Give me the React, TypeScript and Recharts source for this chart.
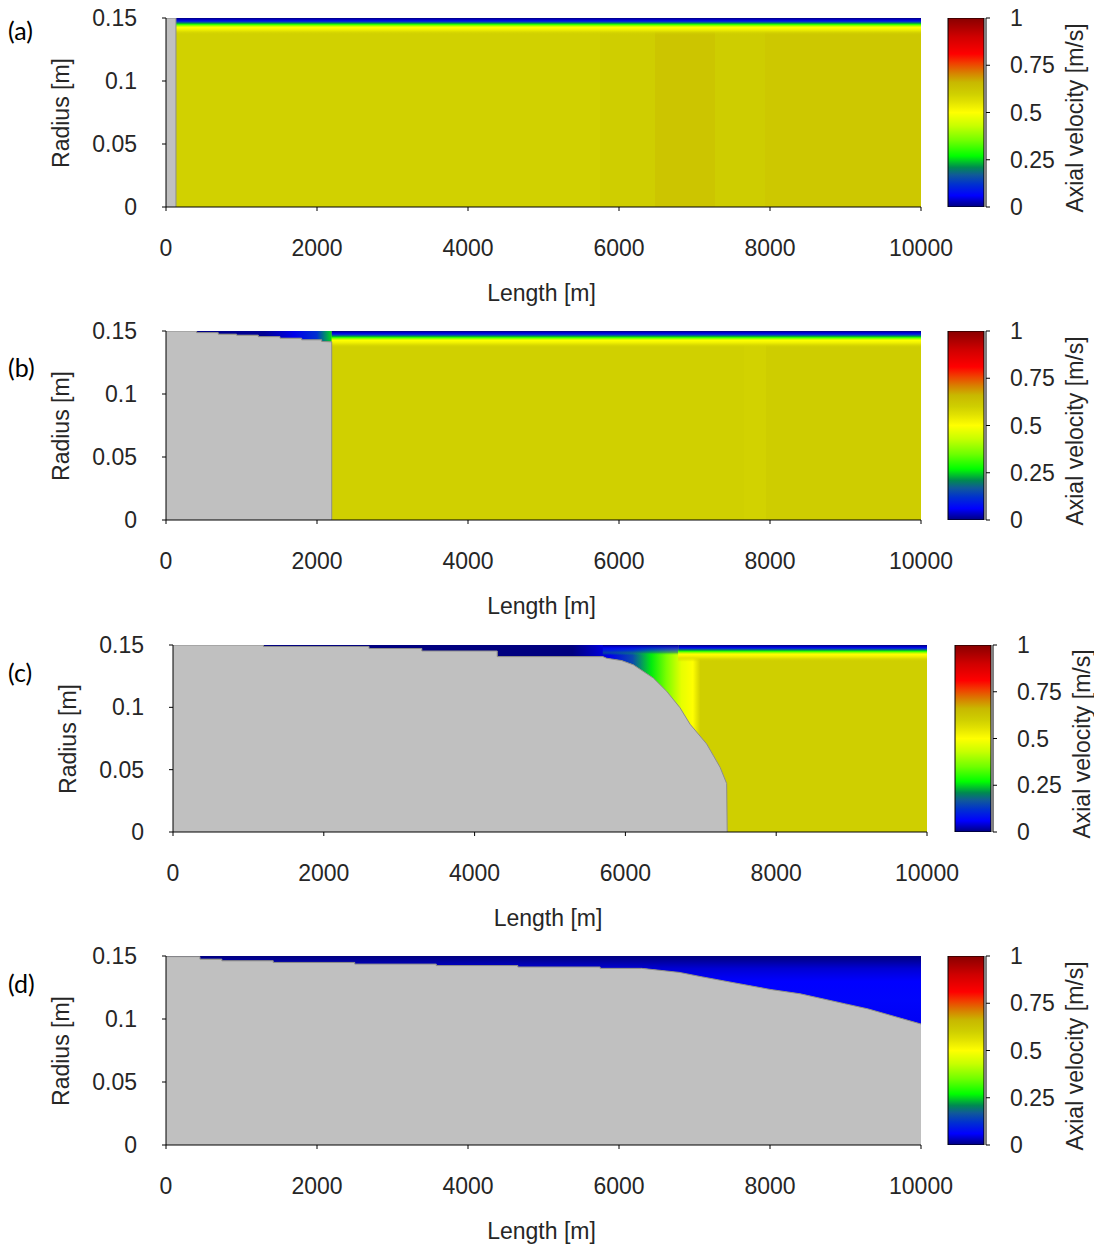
import React from 'react';
import { ComposedChart, Area, Bar, XAxis, YAxis } from 'recharts';

// ---------- shared axes / scales ----------
const PIPE_R = 0.15;
const PIPE_L = 10000;
const xTicks = [0, 2000, 4000, 6000, 8000, 10000];
const yTicks = [0, 0.05, 0.1, 0.15];
const cbarTicks = [0, 0.25, 0.5, 0.75, 1];

// near-wall axial velocity profile (radius [m] -> velocity [m/s])
const wallProfileR = [0.15, 0.1488, 0.1476, 0.1467, 0.1458, 0.1449, 0.1438, 0.1426, 0.1412, 0.1398, 0.138, 0.1365];
const wallProfileV = [0, 0.03, 0.08, 0.15, 0.22, 0.3, 0.4, 0.5, 0.52, 0.55, 0.58, 0.6];

// ---------- panel (a) ----------
const depXA = [0, 132, 132];
const depRA = [0.15, 0.15, 0];
const coreXA = [0, 5750, 6480, 7270, 7930, 10000];
const coreVA = [0.595, 0.602, 0.625, 0.606, 0.618];

// ---------- panel (b) ----------
const depXB = [0, 406, 406, 692, 692, 935, 935, 1223, 1223, 1510, 1510, 1797, 1797, 2062, 2062, 2195, 2195];
const depRB = [0.15, 0.15, 0.1487, 0.1487, 0.1475, 0.1475, 0.1467, 0.1467, 0.1455, 0.1455, 0.1443, 0.1443, 0.143, 0.143, 0.1417, 0.1414, 0];
const bandXB = [0, 1300, 1700, 2000, 2195];
const bandVB = [0, 0.01, 0.05, 0.12, 0.25];
const coreXB = [0, 7650, 7950, 10000];
const coreVB = [0.598, 0.592, 0.606];

// ---------- panel (c) ----------
const depXC = [0, 1200, 1200, 2600, 2600, 3300, 3300, 4300, 4300, 5700, 5750, 5950, 6105, 6370, 6547, 6724, 6857, 7078, 7255, 7343, 7350];
const depRC = [0.15, 0.15, 0.1488, 0.1488, 0.1472, 0.1472, 0.1452, 0.1452, 0.1407, 0.1407, 0.1394, 0.1375, 0.1341, 0.1235, 0.1129, 0.0997, 0.0865, 0.0706, 0.052, 0.0389, 0];
const bandXC = [0, 5300, 5800, 6100, 6350, 6550, 6750, 6900, 7000, 7350];
const bandVC = [0, 0, 0.05, 0.15, 0.26, 0.36, 0.47, 0.5, 0.6, 0.6];
const coreXC = [0, 10000];
const coreVC = [0.6];
// low-velocity layer hugging the wall in the transition zone of (c)
const topXC = [5700, 6700];
const topRC = [0.15, 0.1485, 0.147, 0.1455, 0.144, 0.142];
const topVC = [0, 0.04, 0.08, 0.12, 0.18, 0.25];

// ---------- panel (d) ----------
const depXD = [0, 450, 450, 740, 740, 1420, 1420, 2500, 2500, 3580, 3580, 4660, 4660, 5750, 5750, 6300, 6800, 7070, 7500, 8000, 8400, 9000, 9300, 10000];
const depRD = [0.1495, 0.1495, 0.1475, 0.1475, 0.1462, 0.1462, 0.1449, 0.1449, 0.1436, 0.1436, 0.1424, 0.1424, 0.1413, 0.1413, 0.1402, 0.1402, 0.137, 0.1338, 0.129, 0.1235, 0.12, 0.112, 0.108, 0.096];
const bandRD = [0.15, 0.146, 0.14, 0.13, 0.115, 0.096];
const bandVD = [0, 0.015, 0.04, 0.06, 0.065, 0.055];
const coreXD = [0, 10000];
const coreVD = [0.6];

// ---------- colour map (velocity -> colour) ----------
const CMAP: [number, string][] = [
  [0.0, '#00007f'],
  [0.06, '#0000ff'],
  [0.12, '#0030d0'],
  [0.17, '#105a98'],
  [0.21, '#008a50'],
  [0.27, '#00ff00'],
  [0.35, '#70ff00'],
  [0.43, '#c8ff00'],
  [0.5, '#ffff00'],
  [0.56, '#e0e000'],
  [0.6, '#cfcf00'],
  [0.66, '#c8b800'],
  [0.71, '#d88000'],
  [0.76, '#f04000'],
  [0.81, '#ff0000'],
  [0.9, '#d00000'],
  [1.0, '#880000'],
];

function hexToRgb(h: string) {
  return [parseInt(h.slice(1, 3), 16), parseInt(h.slice(3, 5), 16), parseInt(h.slice(5, 7), 16)];
}
function cmap(v: number): string {
  const t = Math.max(0, Math.min(1, v));
  for (let i = 0; i < CMAP.length - 1; i++) {
    const [v0, c0] = CMAP[i];
    const [v1, c1] = CMAP[i + 1];
    if (t >= v0 && t <= v1) {
      const f = (t - v0) / (v1 - v0 || 1);
      const a = hexToRgb(c0);
      const b = hexToRgb(c1);
      const m = a.map((x, k) => Math.round(x + (b[k] - x) * f));
      return `rgb(${m[0]},${m[1]},${m[2]})`;
    }
  }
  return CMAP[CMAP.length - 1][1];
}

const FONT = '"Liberation Sans", Arial, Helvetica, sans-serif';
const TXT = '#262626';
const FS = 23;
const TICK_STYLE = { fontSize: FS, fill: TXT, fontFamily: FONT };

type PanelCfg = {
  id: string;
  tag: string;
  plot: { l: number; t: number; r: number; b: number };
  cbarLeft: number;
  tagY: number;
  depX: number[];
  depR: number[];
  coreX: number[];
  coreV: number[];
  wallStart?: number;
  band?: { mode: 'x' | 'y'; keys: number[]; vals: number[] };
  top?: { x: number[]; r: number[]; v: number[] };
};

const panels: PanelCfg[] = [
  { id: 'a', tag: '(a)', plot: { l: 166, t: 18, r: 921, b: 207 }, cbarLeft: 946, tagY: 30,
    depX: depXA, depR: depRA, coreX: coreXA, coreV: coreVA, wallStart: 132 },
  { id: 'b', tag: '(b)', plot: { l: 166, t: 331, r: 921, b: 520 }, cbarLeft: 946, tagY: 367,
    depX: depXB, depR: depRB, coreX: coreXB, coreV: coreVB, wallStart: 2195,
    band: { mode: 'x', keys: bandXB, vals: bandVB } },
  { id: 'c', tag: '(c)', plot: { l: 173, t: 645, r: 927, b: 832 }, cbarLeft: 953, tagY: 672,
    depX: depXC, depR: depRC, coreX: coreXC, coreV: coreVC, wallStart: 6700,
    band: { mode: 'x', keys: bandXC, vals: bandVC },
    top: { x: topXC, r: topRC, v: topVC } },
  { id: 'd', tag: '(d)', plot: { l: 166, t: 956, r: 921, b: 1145 }, cbarLeft: 946, tagY: 983,
    depX: depXD, depR: depRD, coreX: coreXD, coreV: coreVD,
    band: { mode: 'y', keys: bandRD, vals: bandVD } },
];

function buildRows(p: PanelCfg) {
  const rows: any[] = [];
  const wallMin = Math.min(...wallProfileR);
  rows.push({ x: 0, field: [0, PIPE_R] });
  rows.push({ x: PIPE_L, field: [0, PIPE_R] });
  if (p.band) {
    p.depX.forEach((x, i) => {
      if (p.depR[i] > 0) rows.push({ x, band: [p.depR[i], PIPE_R] });
    });
  }
  if (p.top) {
    const tMin = Math.min(...p.top.r);
    p.top.x.forEach((x) => rows.push({ x, top: [tMin, PIPE_R] }));
  }
  if (p.wallStart != null) {
    rows.push({ x: p.wallStart, wall: [wallMin, PIPE_R] });
    rows.push({ x: PIPE_L, wall: [wallMin, PIPE_R] });
  }
  p.depX.forEach((x, i) => rows.push({ x, dep: p.depR[i] }));
  return rows;
}

function Gradients({ p }: { p: PanelCfg }) {
  const wallMin = Math.min(...wallProfileR);
  const coreStops: JSX.Element[] = [];
  for (let i = 0; i < p.coreV.length; i++) {
    const c = cmap(p.coreV[i]);
    coreStops.push(<stop key={`s${i}a`} offset={p.coreX[i] / PIPE_L} stopColor={c} />);
    coreStops.push(<stop key={`s${i}b`} offset={p.coreX[i + 1] / PIPE_L} stopColor={c} />);
  }
  const wallStops = wallProfileR.map((r, i) => {
    const v = wallProfileV[i];
    const op = v >= 0.55 ? Math.max(0, (0.6 - v) / 0.05) : 1;
    return <stop key={i} offset={(PIPE_R - r) / (PIPE_R - wallMin)} stopColor={cmap(v)} stopOpacity={op} />;
  });
  let bandGrad: JSX.Element | null = null;
  if (p.band) {
    if (p.band.mode === 'x') {
      const front = p.depX[p.depX.length - 1];
      bandGrad = (
        <linearGradient id={`band-${p.id}`} x1="0" y1="0" x2="1" y2="0">
          {p.band.keys.map((x, i) => (
            <stop key={i} offset={x / front} stopColor={cmap(p.band!.vals[i])} />
          ))}
        </linearGradient>
      );
    } else {
      const minDep = Math.min(...p.depR);
      bandGrad = (
        <linearGradient id={`band-${p.id}`} x1="0" y1="0" x2="0" y2="1">
          {p.band.keys.map((r, i) => (
            <stop key={i} offset={(PIPE_R - r) / (PIPE_R - minDep)} stopColor={cmap(p.band!.vals[i])} />
          ))}
        </linearGradient>
      );
    }
  }
  let topGrad: JSX.Element | null = null;
  if (p.top) {
    const tMin = Math.min(...p.top.r);
    const n = p.top.r.length;
    topGrad = (
      <linearGradient id={`top-${p.id}`} x1="0" y1="0" x2="0" y2="1">
        {p.top.r.map((r, i) => (
          <stop key={i} offset={(PIPE_R - r) / (PIPE_R - tMin)} stopColor={cmap(p.top!.v[i])} stopOpacity={i === n - 1 ? 0 : 1 - (i / (n - 1)) * 0.5} />
        ))}
      </linearGradient>
    );
  }
  return (
    <defs>
      <linearGradient id={`core-${p.id}`} x1="0" y1="0" x2="1" y2="0">
        {coreStops}
      </linearGradient>
      <linearGradient id={`wall-${p.id}`} x1="0" y1="0" x2="0" y2="1">
        {wallStops}
      </linearGradient>
      {bandGrad}
      {topGrad}
    </defs>
  );
}

function Colorbar({ id, left, top, bottom }: { id: string; left: number; top: number; bottom: number }) {
  const padT = 20;
  const barW = 40;
  const axisW = 80;
  const data = [{ name: 'v', v: 1 }];
  return (
    <div style={{ position: 'absolute', left, top: top - padT }}>
      <ComposedChart
        width={barW + axisW}
        height={bottom - top + 2 * padT}
        data={data}
        margin={{ top: padT, bottom: padT, left: 0, right: 0 }}
        barCategoryGap={0}
        barGap={0}
      >
        <defs>
          <linearGradient id={`cbar-${id}`} x1="0" y1="0" x2="0" y2="1">
            {[...CMAP].reverse().map(([v, c], i) => (
              <stop key={i} offset={1 - v} stopColor={c} />
            ))}
          </linearGradient>
        </defs>
        <XAxis dataKey="name" type="category" hide />
        <YAxis
          orientation="right"
          type="number"
          domain={[0, 1]}
          ticks={cbarTicks}
          allowDataOverflow
          width={axisW}
          tickSize={4}
          tickMargin={20}
          tick={TICK_STYLE}
          axisLine={{ stroke: '#000' }}
          tickLine={{ stroke: '#000' }}
          interval={0}
        />
        <Bar dataKey="v" fill={`url(#cbar-${id})`} stroke="#000" strokeWidth={1} barSize={barW} isAnimationActive={false} />
      </ComposedChart>
    </div>
  );
}

function Panel({ p }: { p: PanelCfg }) {
  const { l, t, r, b } = p.plot;
  const padT = 20;
  const axH = 70;
  const yW = 110;
  const padR = 50;
  const width = r + padR;
  const height = b - t + padT + axH;
  const rows = buildRows(p);
  const cx = (l + r) / 2;
  const cy = (t + b) / 2;
  const textStyle: React.CSSProperties = {
    position: 'absolute',
    fontFamily: FONT,
    fontSize: FS,
    color: TXT,
    lineHeight: 1,
    whiteSpace: 'nowrap',
  };
  return (
    <>
      <div style={{ position: 'absolute', left: 0, top: t - padT }}>
        <ComposedChart
          width={width}
          height={height}
          data={rows}
          margin={{ top: padT, right: padR, bottom: 0, left: l - yW }}
        >
          <Gradients p={p} />
          <Area xAxisId="b" yAxisId="l" type="linear" dataKey="field" fill={`url(#core-${p.id})`} fillOpacity={1} stroke="none" isAnimationActive={false} />
          {p.band && (
            <Area xAxisId="b" yAxisId="l" type="linear" dataKey="band" fill={`url(#band-${p.id})`} fillOpacity={1} stroke="none" isAnimationActive={false} />
          )}
          {p.top && (
            <Area xAxisId="b" yAxisId="l" type="linear" dataKey="top" fill={`url(#top-${p.id})`} fillOpacity={1} stroke="none" isAnimationActive={false} />
          )}
          {p.wallStart != null && (
            <Area xAxisId="b" yAxisId="l" type="linear" dataKey="wall" fill={`url(#wall-${p.id})`} fillOpacity={1} stroke="none" isAnimationActive={false} />
          )}
          <Area xAxisId="b" yAxisId="l" type="linear" dataKey="dep" baseValue={0} fill="#c0c0c0" fillOpacity={1} stroke="#8c8c8c" strokeWidth={1} isAnimationActive={false} />
          <XAxis
            xAxisId="b"
            dataKey="x"
            type="number"
            domain={[0, PIPE_L]}
            ticks={xTicks}
            allowDataOverflow
            height={axH}
            tickSize={4}
            tickMargin={29}
            tick={TICK_STYLE}
            axisLine={{ stroke: '#000' }}
            tickLine={{ stroke: '#000' }}
            interval={0}
          />
          <XAxis
            xAxisId="t"
            orientation="top"
            dataKey="x"
            type="number"
            domain={[0, PIPE_L]}
            ticks={xTicks}
            allowDataOverflow
            height={0}
            tickSize={4}
            tickFormatter={() => ''}
            axisLine={{ stroke: '#000' }}
            tickLine={{ stroke: '#000' }}
            interval={0}
          />
          <YAxis
            yAxisId="l"
            type="number"
            domain={[0, PIPE_R]}
            ticks={yTicks}
            allowDataOverflow
            width={yW}
            tickSize={4}
            tickMargin={25}
            tick={TICK_STYLE}
            axisLine={{ stroke: '#000' }}
            tickLine={{ stroke: '#000' }}
            interval={0}
          />
          <YAxis
            yAxisId="r"
            orientation="right"
            type="number"
            domain={[0, PIPE_R]}
            ticks={yTicks}
            allowDataOverflow
            width={0}
            tickSize={4}
            tickFormatter={() => ''}
            axisLine={{ stroke: '#000' }}
            tickLine={{ stroke: '#000' }}
            interval={0}
          />
        </ComposedChart>
      </div>
      <Colorbar id={p.id} left={p.cbarLeft} top={t} bottom={b} />
      <div style={{ ...textStyle, left: cx - 2, top: b + 86, transform: 'translate(-50%,-50%)' }}>Length [m]</div>
      <div style={{ ...textStyle, left: l - 105, top: cy, transform: 'translate(-50%,-50%) rotate(-90deg)' }}>Radius [m]</div>
      <div style={{ ...textStyle, left: p.cbarLeft + 129, top: cy + 5, transform: 'translate(-50%,-50%) rotate(-90deg)' }}>
        Axial velocity [m/s]
      </div>
      <div style={{ ...textStyle, fontFamily: 'Lato, "Noto Sans", sans-serif', fontSize: 25, color: '#000', left: 8, top: p.tagY, transform: 'translateY(-50%)' }}>
        {p.tag}
      </div>
    </>
  );
}

export default function App() {
  return (
    <div style={{ position: 'absolute', left: 0, top: 0, width: 1094, height: 1247, background: '#fff', overflow: 'hidden' }}>
      {panels.map((p) => (
        <Panel key={p.id} p={p} />
      ))}
    </div>
  );
}
